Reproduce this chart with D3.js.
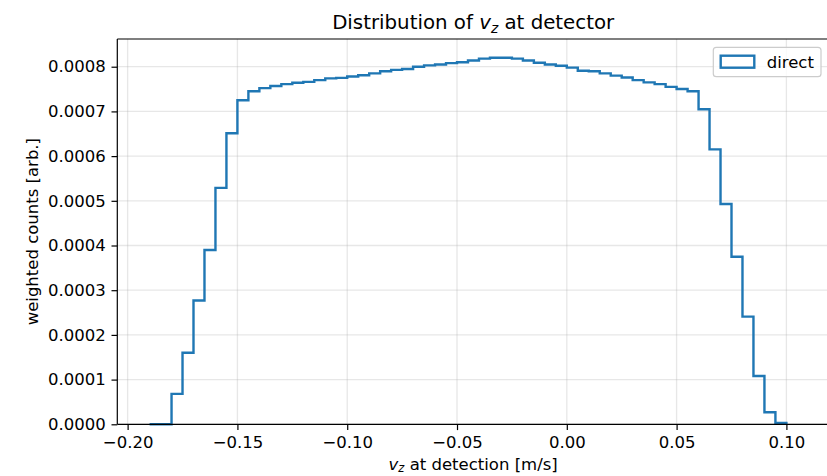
<!DOCTYPE html>
<html>
<head>
<meta charset="utf-8">
<script src="https://cdn.jsdelivr.net/npm/d3@7"></script>
<style>
  html, body { margin: 0; padding: 0; background: #ffffff; }
  svg { display: block; font-family: "DejaVu Sans", sans-serif; }
</style>
</head>
<body>
<svg id="chart" width="827" height="476"></svg>
<script>
// ---- data ----
const binStarts = [
  -0.190, -0.185, -0.180, -0.175, -0.170, -0.165, -0.160, -0.155, -0.150, -0.145,
  -0.140, -0.135, -0.130, -0.125, -0.120, -0.115, -0.110, -0.105, -0.100, -0.095,
  -0.090, -0.085, -0.080, -0.075, -0.070, -0.065, -0.060, -0.055, -0.050, -0.045,
  -0.040, -0.035, -0.030, -0.025, -0.020, -0.015, -0.010, -0.005, 0.000, 0.005,
  0.010, 0.015, 0.020, 0.025, 0.030, 0.035, 0.040, 0.045, 0.050, 0.055,
  0.060, 0.065, 0.070, 0.075, 0.080, 0.085, 0.090, 0.095
];
const binWidth = 0.005;
const counts = [
  0.0, 0.0, 0.68e-4, 1.60e-4, 2.77e-4, 3.90e-4, 5.29e-4, 6.51e-4, 7.25e-4, 7.45e-4,
  7.52e-4, 7.57e-4, 7.61e-4, 7.64e-4, 7.66e-4, 7.70e-4, 7.74e-4, 7.75e-4, 7.78e-4, 7.81e-4,
  7.85e-4, 7.90e-4, 7.93e-4, 7.95e-4, 8.00e-4, 8.03e-4, 8.05e-4, 8.08e-4, 8.10e-4, 8.14e-4,
  8.18e-4, 8.20e-4, 8.20e-4, 8.18e-4, 8.14e-4, 8.09e-4, 8.05e-4, 8.02e-4, 7.98e-4, 7.91e-4,
  7.90e-4, 7.85e-4, 7.80e-4, 7.76e-4, 7.70e-4, 7.65e-4, 7.61e-4, 7.55e-4, 7.50e-4, 7.45e-4,
  7.05e-4, 6.15e-4, 4.93e-4, 3.75e-4, 2.41e-4, 1.08e-4, 0.27e-4, 0.03e-4
];
const xTicks = [-0.20, -0.15, -0.10, -0.05, 0.00, 0.05, 0.10];
const yTicks = [0, 0.0001, 0.0002, 0.0003, 0.0004, 0.0005, 0.0006, 0.0007, 0.0008];
const seriesName = "direct";

// ---- layout ----
const W = 827, H = 476;
const plot = { left: 117.3, right: 829, top: 39, bottom: 424.3 };
const blue = "#1f77b4";
const fs = 16.5, titleFs = 19.8;

const svg = d3.select("#chart");
const x = d3.scaleLinear().domain([-0.2047, 0.1194]).range([plot.left, plot.right]);
const y = d3.scaleLinear().domain([0, 0.000862]).range([plot.bottom, plot.top]);

svg.append("rect").attr("width", W).attr("height", H).attr("fill", "#fff");

// grid
const grid = svg.append("g").attr("stroke", "#b0b0b0").attr("stroke-opacity", 0.3).attr("stroke-width", 1.3);
grid.selectAll("line.gx").data(xTicks).join("line")
  .attr("x1", d => x(d)).attr("x2", d => x(d))
  .attr("y1", plot.top).attr("y2", plot.bottom);
grid.selectAll("line.gy").data(yTicks).join("line")
  .attr("x1", plot.left).attr("x2", plot.right)
  .attr("y1", d => y(d)).attr("y2", d => y(d));

// step histogram outline
const pts = [];
binStarts.forEach((b, i) => {
  if (i === 0) pts.push([b, 0]);
  pts.push([b, counts[i]]);
  pts.push([b + binWidth, counts[i]]);
});
pts.push([binStarts[binStarts.length - 1] + binWidth, 0]);
const line = d3.line().x(d => x(d[0])).y(d => y(d[1]));
svg.append("path").datum(pts)
  .attr("d", line)
  .attr("fill", "none")
  .attr("stroke", blue)
  .attr("stroke-width", 2.4)
  .attr("stroke-linejoin", "miter");

// axes
const fmtX = d => d3.format(".2f")(d).replace("-", "\u2212");
const fmtY = d => d3.format(".4f")(d);

const xAxis = d3.axisBottom(x).tickValues(xTicks).tickFormat(fmtX).tickSize(5.8).tickPadding(5.8);
const gx = svg.append("g").attr("transform", `translate(0,${plot.bottom})`).call(xAxis);
gx.select(".domain").remove();
gx.selectAll(".tick line").attr("stroke", "#000").attr("stroke-width", 1.2);
gx.selectAll(".tick text").attr("font-size", fs).attr("fill", "#000")
  .attr("font-family", "DejaVu Sans").attr("dy", "0.72em");

const yAxis = d3.axisLeft(y).tickValues(yTicks).tickFormat(fmtY).tickSize(5.8).tickPadding(5.8);
const gy = svg.append("g").attr("transform", `translate(${plot.left},0)`).call(yAxis);
gy.select(".domain").remove();
gy.selectAll(".tick line").attr("stroke", "#000").attr("stroke-width", 1.2);
gy.selectAll(".tick text").attr("font-size", fs).attr("fill", "#000")
  .attr("font-family", "DejaVu Sans");

// spines
const sp = svg.append("g").attr("stroke", "#000").attr("stroke-width", 1.2).attr("fill", "none");
sp.append("line").attr("x1", plot.left).attr("x2", plot.left).attr("y1", plot.top).attr("y2", plot.bottom);
sp.append("line").attr("x1", plot.left).attr("x2", plot.right).attr("y1", plot.bottom).attr("y2", plot.bottom);
sp.append("line").attr("x1", plot.left).attr("x2", plot.right).attr("y1", plot.top).attr("y2", plot.top);
sp.append("line").attr("x1", plot.right).attr("x2", plot.right).attr("y1", plot.top).attr("y2", plot.bottom);

// title
const cx = (plot.left + plot.right) / 2;
const title = svg.append("text").attr("x", cx).attr("y", 29)
  .attr("text-anchor", "middle").attr("font-size", titleFs).attr("fill", "#000");
title.append("tspan").text("Distribution of ");
title.append("tspan").attr("font-style", "italic").text("v");
title.append("tspan").attr("font-style", "italic").attr("font-size", titleFs * 0.7).attr("dy", 4.3).text("z");
title.append("tspan").attr("dy", -4.3).text(" at detector");

// x label
const xl = svg.append("text").attr("x", cx).attr("y", 469.5)
  .attr("text-anchor", "middle").attr("font-size", fs).attr("fill", "#000");
xl.append("tspan").attr("font-style", "italic").text("v");
xl.append("tspan").attr("font-style", "italic").attr("font-size", fs * 0.7).attr("dy", 2.8).text("z");
xl.append("tspan").attr("dy", -2.8).text(" at detection [m/s]");

// y label
svg.append("text")
  .attr("transform", `translate(38.3,${(plot.top + plot.bottom) / 2}) rotate(-90)`)
  .attr("text-anchor", "middle").attr("font-size", fs).attr("fill", "#000")
  .text("weighted counts [arb.]");

// legend
const lg = svg.append("g");
lg.append("rect").attr("x", 713.3).attr("y", 47.3).attr("width", 107.7).attr("height", 29.4)
  .attr("rx", 3).attr("fill", "#fff").attr("fill-opacity", 0.8)
  .attr("stroke", "#cccccc").attr("stroke-width", 1.2);
lg.append("rect").attr("x", 720.7).attr("y", 55.7).attr("width", 33.6).attr("height", 12)
  .attr("fill", "none").attr("stroke", blue).attr("stroke-width", 2.4);
lg.append("text").attr("x", 766.7).attr("y", 67.8).attr("font-size", fs).attr("fill", "#000")
  .text(seriesName);
</script>
</body>
</html>
